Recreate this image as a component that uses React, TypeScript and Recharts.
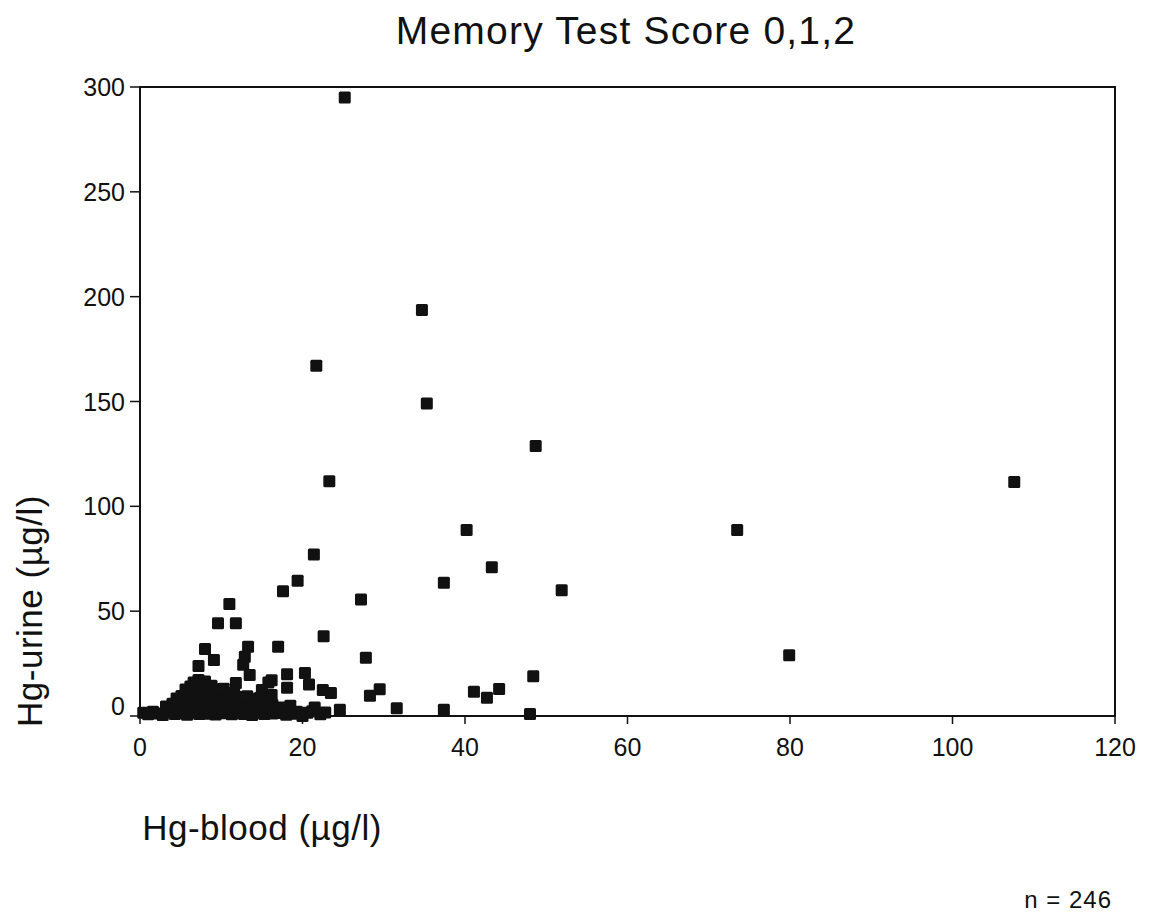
import React from 'react';
import {
  ScatterChart,
  Scatter,
  XAxis,
  YAxis,
  ReferenceArea,
} from 'recharts';

// Hg-blood (µg/l) per subject
const hgBlood = [
  // distinct points
  25.2, 34.7, 21.7, 35.3, 48.7, 107.6, 23.3, 40.2, 73.5, 21.4,
  19.4, 17.6, 37.4, 43.3, 51.9, 27.2, 11.0, 9.6, 11.8, 22.6,
  8.0, 13.3, 17.0, 9.1, 12.9, 7.2, 12.7, 27.8, 79.9, 48.4,
  13.5, 18.1, 20.3, 16.2, 18.1, 20.8, 22.5, 11.8, 21.5, 19.3,
  29.5, 28.3, 41.1, 42.7, 44.2, 24.6, 31.6, 37.4, 48.0, 15.8,
  15.0, 16.2, 12.9, 11.3, 23.5,
  // bottom band
  0.4, 1.0, 1.6, 2.2, 2.8, 3.3, 3.8, 4.3, 4.8, 5.3,
  5.8, 6.3, 6.8, 7.3, 7.8, 8.3, 8.8, 9.3, 9.8, 10.3,
  10.8, 11.3, 11.8, 12.3, 12.8, 13.3, 13.8, 14.3, 14.8, 15.3,
  15.8, 16.3, 16.8, 17.4, 18.0, 18.6, 19.2, 20.0, 20.6, 21.2,
  22.2, 22.8,
  // cluster
  3.2, 4.0, 4.6, 5.2, 5.9, 6.5, 7.1, 7.7, 8.4, 9.0,
  9.7, 10.4, 11.0, 11.7, 12.4, 13.1, 13.8, 14.6, 15.4, 16.3,
  17.2, 18.5,
  4.5, 5.1, 5.7, 6.3, 6.9, 7.6, 8.2, 8.9, 9.5, 10.2,
  10.9, 11.6, 12.4, 13.2, 14.0, 14.8,
  5.6, 6.2, 6.8, 7.5, 8.1, 8.8, 9.5, 10.3,
  7.2, 8.0, 6.6,
];

// Hg-urine (µg/l), same order as hgBlood
const hgUrine = [
  295, 193.6, 167, 149, 128.8, 111.6, 112, 88.7, 88.7, 77,
  64.5, 59.5, 63.5, 71, 60, 55.6, 53.4, 44.2, 44.2, 38,
  32, 33, 33, 26.7, 28.3, 23.8, 24.5, 27.8, 29, 19,
  19.5, 19.9, 20.5, 17, 13.5, 15, 12.4, 15.7, 4, 2,
  12.7, 9.7, 11.6, 8.7, 12.9, 3, 3.7, 3, 1, 16,
  12.4, 10, 9, 11, 11,
  1.5, 0.8, 2, 1.2, 0.5, 1.8, 2.4, 1, 2.2, 1.4,
  0.6, 2.5, 1.7, 0.9, 2.3, 1.1, 1.9, 0.7, 2.1, 1.3,
  2.6, 0.8, 1.6, 2.4, 1, 1.8, 0.5, 2.2, 1.5, 0.9,
  2, 1.2, 2.7, 1.4, 0.6, 1.9, 1.1, 0, 1.6, 2.3,
  0.8, 1.7,
  4.5, 5.8, 4.2, 6.5, 5.1, 6.9, 4.6, 6.2, 5.4, 7.0,
  4.8, 6.4, 5.2, 4.4, 6.0, 5.0, 4.3, 5.6, 4.7, 5.3,
  4.1, 4.9,
  8.3, 9.5, 10.6, 8.8, 11.0, 9.2, 10.2, 8.5, 11.2, 9.8,
  8.6, 10.3, 8.9, 9.4, 8.2, 8.7,
  12.6, 14.1, 12.9, 15.2, 13.4, 14.4, 12.8, 13.0,
  17.2, 16.4, 16.0,
];

const xTicks = [0, 20, 40, 60, 80, 100, 120];
const yTicks = [0, 50, 100, 150, 200, 250, 300];

const points = hgBlood.map((b, i) => ({ blood: b, urine: hgUrine[i] }));

const FONT = '"Liberation Sans", Arial, Helvetica, sans-serif';

// filled square marker like the scanned original
const SquareDot = (p: any) => {
  const { cx, cy } = p;
  if (cx == null || cy == null) return null;
  return <rect x={cx - 6} y={cy - 6} width={12} height={12} rx={1.5} fill="#111" />;
};

const YTick = (p: any) => {
  const { x, y, payload } = p;
  // the 0 label sits a bit above its tick in the original
  const dy = payload.value === 0 ? -10 : 0;
  return (
    <text x={x} y={y + dy} textAnchor="end" dominantBaseline="central"
      fontFamily={FONT} fontSize={25} fill="#111">
      {payload.value}
    </text>
  );
};

const XTick = (p: any) => {
  const { x, y, payload } = p;
  return (
    <text x={x} y={y} textAnchor="middle" dominantBaseline="hanging"
      fontFamily={FONT} fontSize={25} fill="#111">
      {payload.value}
    </text>
  );
};

export default function App() {
  return (
    <div style={{ position: 'absolute', left: 0, top: 0, width: 1160, height: 918, background: '#fff' }}>
      <ScatterChart
        width={1160}
        height={918}
        margin={{ top: 87, right: 45, bottom: 172, left: 80 }}
      >
        <XAxis
          type="number"
          dataKey="blood"
          domain={[0, 120]}
          ticks={xTicks}
          tick={<XTick />}
          tickSize={8}
          tickMargin={14}
          axisLine={{ stroke: '#111', strokeWidth: 2 }}
          tickLine={{ stroke: '#111', strokeWidth: 1.5 }}
          height={30}
        />
        <YAxis
          type="number"
          dataKey="urine"
          domain={[0, 300]}
          ticks={yTicks}
          tick={<YTick />}
          tickSize={10}
          tickMargin={5}
          axisLine={{ stroke: '#111', strokeWidth: 2 }}
          tickLine={{ stroke: '#111', strokeWidth: 1.5 }}
          width={60}
        />
        <ReferenceArea x1={0} x2={120} y1={0} y2={300} fill="none" stroke="#111" strokeWidth={2} />
        <Scatter data={points} shape={<SquareDot />} isAnimationActive={false} />
      </ScatterChart>
      <svg width={1160} height={918} style={{ position: 'absolute', left: 0, top: 0, pointerEvents: 'none' }}>
        <text x={626} y={44} textAnchor="middle" fontFamily={FONT} fontSize={39}
          letterSpacing={1.2} fill="#111">
          Memory Test Score 0,1,2
        </text>
        <text x={262} y={840} textAnchor="middle" fontFamily={FONT} fontSize={35}
          letterSpacing={0.5} fill="#111">
          Hg-blood (µg/l)
        </text>
        <text x={42} y={611} textAnchor="middle" fontFamily={FONT} fontSize={35}
          letterSpacing={0.5} fill="#111" transform="rotate(-90 42 611)">
          Hg-urine (µg/l)
        </text>
        <text x={1112} y={908} textAnchor="end" fontFamily={FONT} fontSize={24}
          letterSpacing={1} fill="#111">
          n = 246
        </text>
      </svg>
    </div>
  );
}
